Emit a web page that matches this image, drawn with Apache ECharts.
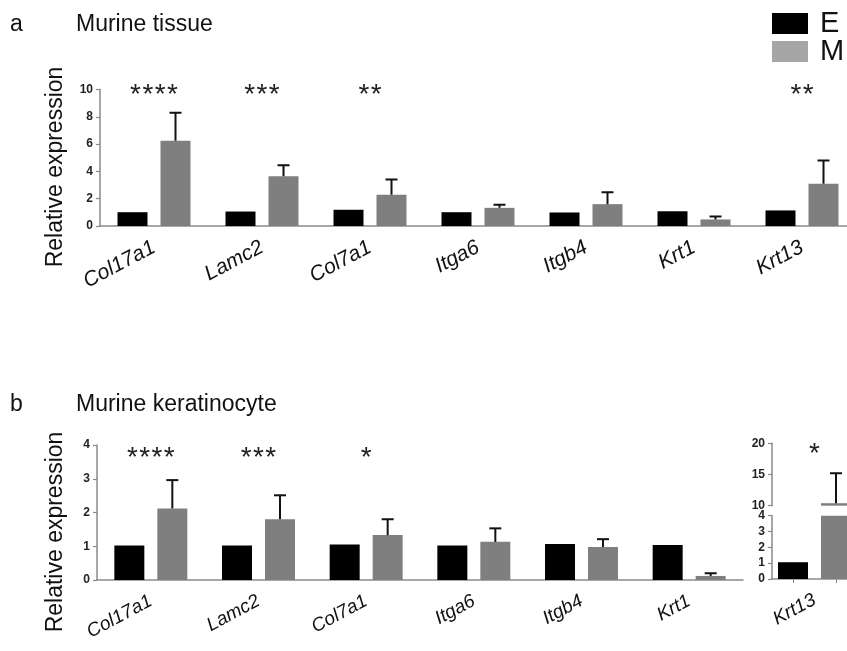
<!DOCTYPE html>
<html>
<head>
<meta charset="utf-8">
<script src="https://cdn.jsdelivr.net/npm/echarts@6/dist/echarts.min.js"></script>
<style>
  html, body { margin: 0; padding: 0; background: #fff; }
  #chart { width: 847px; height: 651px; }
</style>
</head>
<body>
<div id="chart"></div>
<script>
// Panel a: murine tissue
const genesTissue = ['Col17a1', 'Lamc2', 'Col7a1', 'Itga6', 'Itgb4', 'Krt1', 'Krt13'];
const tissueE = [1.01, 1.06, 1.19, 1.01, 0.99, 1.08, 1.14];
const tissueM = [6.24, 3.65, 2.29, 1.33, 1.60, 0.48, 3.09];
const tissueSD = [2.05, 0.80, 1.12, 0.22, 0.88, 0.22, 1.71];
const tissueSig = ['****', '***', '**', '', '', '', '**'];
const tissueTicks = [0, 2, 4, 6, 8, 10];

// Panel b: murine keratinocyte
const genesKc = ['Col17a1', 'Lamc2', 'Col7a1', 'Itga6', 'Itgb4', 'Krt1'];
const kcE = [1.02, 1.02, 1.05, 1.02, 1.07, 1.04];
const kcM = [2.12, 1.80, 1.33, 1.13, 0.98, 0.12];
const kcSD = [0.84, 0.71, 0.47, 0.40, 0.23, 0.08];
const kcSig = ['****', '***', '*', '', '', ''];
const kcTicks = [0, 1, 2, 3, 4];

// Panel b inset: Krt13 on a broken axis
const krt13Gene = ['Krt13'];
const krt13E = [1.06];
const krt13M = [10.4];
const krt13SD = [4.8];
const krt13Sig = ['*'];
const krt13TicksHigh = [10, 15, 20];
const krt13TicksLow = [0, 1, 2, 3, 4];

const FONT = '"Liberation Sans", Arial, Helvetica, sans-serif';
const BAR_W = 30;
const BAR_GAP = 13;
const M_OFF = (BAR_W + BAR_GAP) / 2;
const COLOR_E = '#000000';
const COLOR_M = '#7f7f7f';
const AXIS_COLOR = '#8a8a8a';
const STAR_PITCH = 12.3;

const chart = echarts.init(document.getElementById('chart'), null, { renderer: 'canvas' });

function range(ticks) {
  return { min: ticks[0], max: ticks[ticks.length - 1], interval: ticks[1] - ticks[0] };
}

function yAxisOf(gridIndex, ticks) {
  const r = range(ticks);
  return {
    type: 'value', gridIndex, min: r.min, max: r.max, interval: r.interval,
    axisLine: { show: true, lineStyle: { color: AXIS_COLOR, width: 1.5 } },
    axisTick: { show: true, length: 4, lineStyle: { color: AXIS_COLOR, width: 1.2 } },
    splitLine: { show: false },
    axisLabel: { fontSize: 12, fontWeight: 'bold', color: '#222', margin: 7, fontFamily: FONT }
  };
}

function xAxisOf(gridIndex, data, fontSize, showLine) {
  return {
    type: 'category', gridIndex, data,
    axisLine: { show: showLine, lineStyle: { color: AXIS_COLOR, width: 1.5 } },
    axisTick: { show: false },
    axisLabel: {
      show: showLine, interval: 0, rotate: 28, margin: 20,
      fontSize, fontStyle: 'italic', color: '#111', fontFamily: FONT
    }
  };
}

function barSeries(name, xi, yi, data, color) {
  return {
    type: 'bar', name, xAxisIndex: xi, yAxisIndex: yi, data,
    barWidth: BAR_W, barGap: (BAR_GAP / BAR_W * 100).toFixed(1) + '%',
    itemStyle: { color }, clip: true, silent: true
  };
}

// Upper error whisker drawn from the M bar top
function errSeries(xi, yi, means, sds) {
  return {
    type: 'custom', xAxisIndex: xi, yAxisIndex: yi, silent: true, clip: true, z: 5,
    data: means.map((m, i) => [i, m, m + sds[i]]),
    renderItem(params, api) {
      const i = api.value(0);
      const a = api.coord([i, api.value(1)]);
      const b = api.coord([i, api.value(2)]);
      const x = a[0] + M_OFF;
      return {
        type: 'group',
        children: [
          { type: 'line', shape: { x1: x, y1: a[1], x2: x, y2: b[1] }, style: { stroke: '#111', lineWidth: 2 } },
          { type: 'line', shape: { x1: x - 6, y1: b[1], x2: x + 6, y2: b[1] }, style: { stroke: '#111', lineWidth: 2 } }
        ]
      };
    }
  };
}

// Significance stars above each gene group, one glyph per star
function sigSeries(xi, yi, sig, yTop, dy) {
  return {
    type: 'custom', xAxisIndex: xi, yAxisIndex: yi, silent: true, z: 6,
    data: sig.map((s, i) => [i, yTop]),
    renderItem(params, api) {
      const s = sig[params.dataIndex];
      if (!s) return null;
      const p = api.coord([api.value(0), api.value(1)]);
      const n = s.length;
      const children = [];
      for (let k = 0; k < n; k++) {
        children.push({
          type: 'text',
          x: p[0] + (k - (n - 1) / 2) * STAR_PITCH, y: p[1] + dy,
          style: {
            text: s[k], fontSize: 28, fontFamily: FONT,
            fill: '#222', align: 'center', verticalAlign: 'middle'
          }
        });
      }
      return { type: 'group', children };
    }
  };
}

const titleStyle = { fontSize: 23, fontWeight: 'normal', color: '#111', fontFamily: FONT };

const option = {
  animation: false,
  backgroundColor: '#fff',
  title: [
    { text: 'a', left: 10, top: 13, padding: 0, textStyle: titleStyle },
    { text: 'Murine tissue', left: 76, top: 13, padding: 0, textStyle: titleStyle },
    { text: 'b', left: 10, top: 393, padding: 0, textStyle: titleStyle },
    { text: 'Murine keratinocyte', left: 76, top: 393, padding: 0, textStyle: titleStyle }
  ],
  legend: {
    orient: 'vertical', left: 772, top: 9, padding: 0,
    itemWidth: 36, itemHeight: 21, itemGap: -1, icon: 'rect', selectedMode: false,
    data: [
      { name: 'E', itemStyle: { color: COLOR_E } },
      { name: 'M', itemStyle: { color: '#a6a6a6' } }
    ],
    textStyle: { fontSize: 29, color: '#111', fontFamily: FONT, padding: [0, 0, 0, 7] }
  },
  graphic: [
    {
      type: 'text', x: 56, y: 167, rotation: Math.PI / 2,
      style: { text: 'Relative expression', fontSize: 23, fontFamily: FONT, fill: '#111', align: 'center', verticalAlign: 'middle' }
    },
    {
      type: 'text', x: 56, y: 532, rotation: Math.PI / 2,
      style: { text: 'Relative expression', fontSize: 23, fontFamily: FONT, fill: '#111', align: 'center', verticalAlign: 'middle' }
    }
  ],
  grid: [
    { left: 100, top: 89.5, width: 756, height: 136.5, outerBoundsMode: 'none' },
    { left: 97, top: 445, width: 646, height: 135, outerBoundsMode: 'none' },
    { left: 772, top: 443.3, width: 85, height: 62.4, outerBoundsMode: 'none' },
    { left: 772, top: 515.7, width: 85, height: 63.3, outerBoundsMode: 'none' }
  ],
  xAxis: [
    xAxisOf(0, genesTissue, 21, true),
    xAxisOf(1, genesKc, 19, true),
    xAxisOf(2, krt13Gene, 19, false),
    xAxisOf(3, krt13Gene, 19, true),
    {
      type: 'category', gridIndex: 3, position: 'bottom', data: ['E', 'M'],
      axisLine: { show: false }, axisLabel: { show: false },
      axisTick: { show: true, alignWithLabel: true, length: 4, lineStyle: { color: AXIS_COLOR } }
    }
  ],
  yAxis: [
    yAxisOf(0, tissueTicks),
    yAxisOf(1, kcTicks),
    yAxisOf(2, krt13TicksHigh),
    yAxisOf(3, krt13TicksLow)
  ],
  series: [
    barSeries('E', 0, 0, tissueE, COLOR_E),
    barSeries('M', 0, 0, tissueM, COLOR_M),
    errSeries(0, 0, tissueM, tissueSD),
    sigSeries(0, 0, tissueSig, tissueTicks[tissueTicks.length - 1], 5.5),

    barSeries('E', 1, 1, kcE, COLOR_E),
    barSeries('M', 1, 1, kcM, COLOR_M),
    errSeries(1, 1, kcM, kcSD),
    sigSeries(1, 1, kcSig, kcTicks[kcTicks.length - 1], 13.6),

    // broken axis: upper part shows only values above its floor
    barSeries('E', 2, 2, krt13E.map(v => (v > krt13TicksHigh[0] ? v : '-')), COLOR_E),
    barSeries('M', 2, 2, krt13M.map(v => (v > krt13TicksHigh[0] ? v : '-')), COLOR_M),
    errSeries(2, 2, krt13M, krt13SD),
    sigSeries(2, 2, krt13Sig, krt13TicksHigh[krt13TicksHigh.length - 1], 11.3),

    barSeries('E', 3, 3, krt13E, COLOR_E),
    barSeries('M', 3, 3, krt13M, COLOR_M)
  ]
};

chart.setOption(option);
</script>
</body>
</html>
